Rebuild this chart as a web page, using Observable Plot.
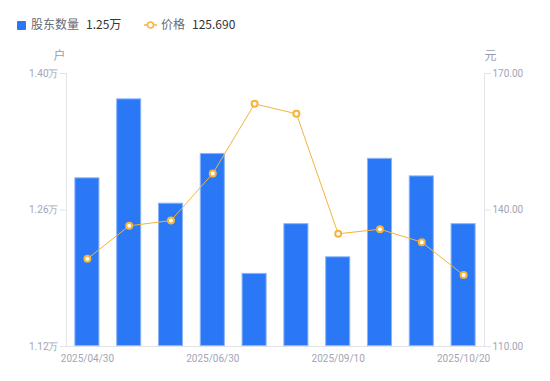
<!DOCTYPE html>
<html><head><meta charset="utf-8">
<script src="https://cdn.jsdelivr.net/npm/d3@7"></script>
<script src="https://cdn.jsdelivr.net/npm/@observablehq/plot@0.6"></script>
<style>
html,body{margin:0;padding:0;background:#fff;}
body{width:550px;height:381px;position:relative;overflow:hidden;font-family:"Noto Sans CJK SC","Noto Sans",sans-serif;}
#legend{position:absolute;left:0;top:0;width:550px;height:40px;font-size:12px;}
#legend .it{position:absolute;top:16px;line-height:16px;white-space:nowrap;}
#chart{position:absolute;left:0;top:40px;}
</style></head><body>
<div id="legend">
  <div class="it" style="left:17px;"><span style="display:inline-block;width:9px;height:9px;background:#2a78f5;border-radius:1px;vertical-align:-0.5px;margin-right:5px;"></span><span style="color:#666a75;">股东数量</span><span style="color:#333;margin-left:7px;">1.25万</span></div>
  <div class="it" style="left:144px;"><svg width="13" height="10" style="vertical-align:-0.5px;margin-right:4px;"><line x1="0" y1="5" x2="13" y2="5" stroke="#f5b43c" stroke-width="1.5"/><circle cx="6.5" cy="5" r="3" fill="#fff" stroke="#f5b43c" stroke-width="1.5"/></svg><span style="color:#666a75;">价格</span><span style="color:#333;margin-left:7px;">125.690</span></div>
</div>
<div id="chart"></div>
<script>
const dates = ["2025/04/30","2025/05/31","2025/06/20","2025/06/30","2025/07/31","2025/08/31","2025/09/10","2025/09/30","2025/10/10","2025/10/20"];
const holders = [1.293,1.374,1.267,1.318,1.195,1.246,1.212,1.313,1.295,1.246]; // 万户
const prices = [129.27,136.52,137.69,148.02,163.33,161.14,134.77,135.78,132.92,125.69]; // 元
const leftTicks = [1.12,1.26,1.40];
const rightTicks = [110,140,170];
const shownDates = ["2025/04/30","2025/06/30","2025/09/10","2025/10/20"];

const L0 = 1.12, L1 = 1.40, R0 = 110, R1 = 170;
const toLeft = p => L0 + (p - R0) / (R1 - R0) * (L1 - L0);

const data = dates.map((d,i)=>({date:d, holders:holders[i], price:prices[i], pl:toLeft(prices[i])}));

const axisColor = "#e2e3e8";
const tickText = "#a3a5b5";

const W = 550, H = 341;
const plot = Plot.plot({
  width: W, height: H,
  marginLeft: 66, marginRight: 66, marginTop: 33, marginBottom: 35,
  style: {fontFamily: "Roboto, 'Noto Sans', sans-serif", fontSize: "10px", color: tickText, background: "#fff"},
  x: {type: "band", domain: dates, paddingInner: 0.4, paddingOuter: 0.2, round: false},
  y: {domain: [L0, L1]},
  marks: [
    Plot.barY(data, {x: "date", y1: L0, y2: "holders", fill: "#2a78f5", stroke: "#8db6f8", strokeWidth: 1, inset: 0.5}),
    Plot.frame({anchor: "left", stroke: axisColor}),
    Plot.frame({anchor: "right", stroke: axisColor}),
    Plot.frame({anchor: "bottom", stroke: axisColor}),
    Plot.axisY(leftTicks, {anchor: "left", tickFormat: d => d.toFixed(2) + "万", tickSize: 6, tickPadding: 2, stroke: axisColor, fill: tickText, label: null}),
    Plot.axisY(rightTicks.map(toLeft), {anchor: "right", tickFormat: (d,i) => rightTicks[i].toFixed(2), tickSize: 6, tickPadding: 2, stroke: axisColor, fill: tickText, label: null}),
    Plot.axisX(shownDates, {anchor: "bottom", tickSize: 0, tickPadding: 8, fill: tickText, label: null}),
    Plot.line(data, {x: "date", y: "pl", stroke: "#f5b43c", strokeWidth: 1}),
    Plot.dot(data, {x: "date", y: "pl", r: 3, fill: "#fff", stroke: "#f5b43c", strokeWidth: 2}),
    Plot.text(["户"], {frameAnchor: "top-left", dx: -13, dy: -22, fill: "#9a9cab", fontSize: 12, fontFamily: "'Noto Sans CJK SC', sans-serif"}),
    Plot.text(["元"], {frameAnchor: "top-right", dx: 12, dy: -22, fill: "#9a9cab", fontSize: 12, fontFamily: "'Noto Sans CJK SC', sans-serif"})
  ]
});
document.getElementById("chart").appendChild(plot);
</script>
</body></html>
